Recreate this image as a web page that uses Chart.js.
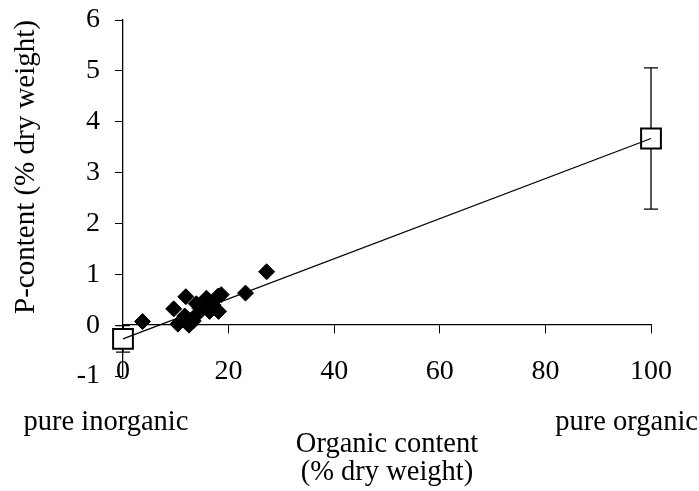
<!DOCTYPE html>
<html>
<head>
<meta charset="utf-8">
<script src="https://cdn.jsdelivr.net/npm/chart.js@4.4.0/dist/chart.umd.min.js"></script>
<style>
  body { margin: 0; background: #fff; }
  #pChart { display: block; }
</style>
</head>
<body>
<canvas id="pChart" width="699" height="491"></canvas>
<script>
// sediment samples: organic content vs P-content (% dry weight)
const organicContent = [3.7, 9.6, 10.4, 11.7, 11.9, 12.5, 13.3, 13.9, 14.2, 14.6, 15.8, 16.4, 17.0, 18.0, 18.6, 18.1, 23.2, 27.2];
const pContent = [0.07, 0.32, 0.02, 0.18, 0.56, 0.0, 0.08, 0.42, 0.23, 0.33, 0.53, 0.27, 0.40, 0.57, 0.60, 0.27, 0.63, 1.05];

// end members (pure inorganic / pure organic) with error
const endMemberX = [0, 100];
const endMemberY = [-0.27, 3.67];
const endMemberErr = [0.26, 1.39];

const xTicks = [0, 20, 40, 60, 80, 100];
const yTicks = [-1, 0, 1, 2, 3, 4, 5, 6];

const serif = "'Liberation Serif', 'Times New Roman', serif";

const samplePoints = organicContent.map((x, i) => ({ x: x, y: pContent[i] }));
const endPoints = endMemberX.map((x, i) => ({ x: x, y: endMemberY[i] }));

const errorBars = {
  id: 'errorBars',
  beforeDatasetsDraw: function (chart) {
    const ctx = chart.ctx;
    const xs = chart.scales.x;
    const ys = chart.scales.y;
    ctx.save();
    ctx.strokeStyle = '#000';
    ctx.lineWidth = 1.3;
    endMemberX.forEach(function (xv, i) {
      const px = xs.getPixelForValue(xv);
      const top = ys.getPixelForValue(endMemberY[i] + endMemberErr[i]);
      const bottom = ys.getPixelForValue(endMemberY[i] - endMemberErr[i]);
      ctx.beginPath();
      ctx.moveTo(px, top);
      ctx.lineTo(px, bottom);
      ctx.moveTo(px - 7, top);
      ctx.lineTo(px + 7, top);
      ctx.moveTo(px - 7, bottom);
      ctx.lineTo(px + 7, bottom);
      ctx.stroke();
    });
    ctx.restore();
  }
};

const endLabels = {
  id: 'endLabels',
  afterDraw: function (chart) {
    const ctx = chart.ctx;
    ctx.save();
    ctx.fillStyle = '#000';
    ctx.font = '28.5px ' + serif;
    ctx.textBaseline = 'alphabetic';
    ctx.textAlign = 'center';
    ctx.fillText('pure inorganic', 106, 430);
    ctx.textAlign = 'right';
    ctx.fillText('pure organic', 698, 430);
    ctx.restore();
  }
};

const pChart = new Chart(document.getElementById('pChart').getContext('2d'), {
  type: 'scatter',
  data: {
    datasets: [
      {
        type: 'line',
        data: endPoints,
        borderColor: '#000',
        borderWidth: 1.3,
        pointRadius: 0,
        fill: false,
        clip: false,
        order: 0
      },
      {
        data: samplePoints,
        pointStyle: 'rectRot',
        pointRadius: 8,
        backgroundColor: '#000',
        borderColor: '#000',
        borderWidth: 1,
        clip: false,
        order: 1
      },
      {
        data: endPoints,
        pointStyle: 'rect',
        pointRadius: 14,
        backgroundColor: '#fff',
        borderColor: '#000',
        borderWidth: 2,
        clip: false,
        order: 2
      }
    ]
  },
  options: {
    responsive: false,
    animation: false,
    layout: {
      padding: { left: 0, right: 48, top: 20, bottom: 0 }
    },
    plugins: {
      legend: { display: false },
      tooltip: { enabled: false }
    },
    scales: {
      x: {
        type: 'linear',
        position: { y: 0 },
        min: 0,
        max: 100,
        afterBuildTicks: function (scale) {
          scale.ticks = xTicks.map(v => ({ value: v }));
        },
        grid: { drawOnChartArea: false, drawTicks: true, tickLength: 8, color: '#000' },
        border: { display: true, color: '#000', width: 1.3 },
        ticks: { color: '#000', padding: 22, font: { family: serif, size: 28, lineHeight: 1.2 }, maxRotation: 0 }
      },
      x2: {
        type: 'linear',
        position: 'bottom',
        min: 0,
        max: 100,
        grid: { display: false },
        border: { display: false },
        ticks: { display: false },
        afterFit: function (scale) { scale.height = 115; },
        title: {
          display: true,
          text: ['Organic content', '(% dry weight)'],
          color: '#000',
          padding: { top: 0, bottom: 4 },
          font: { family: serif, size: 28.5, lineHeight: 1.0 }
        }
      },
      y: {
        type: 'linear',
        position: 'left',
        min: -1,
        max: 6,
        afterBuildTicks: function (scale) {
          scale.ticks = yTicks.map(v => ({ value: v }));
        },
        afterFit: function (scale) {
          scale.width = 123;
          scale.paddingTop = 0;
          scale.paddingBottom = 0;
        },
        grid: { drawOnChartArea: false, drawTicks: true, tickLength: 8, color: '#000' },
        border: { display: true, color: '#000', width: 1.3 },
        ticks: { color: '#000', padding: 15, font: { family: serif, size: 28, lineHeight: 1.2 } },
        title: {
          display: true,
          text: 'P-content (% dry weight)',
          align: 'end',
          color: '#000',
          padding: { top: 9, bottom: 0 },
          font: { family: serif, size: 29, lineHeight: 1.2 }
        }
      }
    }
  },
  plugins: [errorBars, endLabels]
});
</script>
</body>
</html>
